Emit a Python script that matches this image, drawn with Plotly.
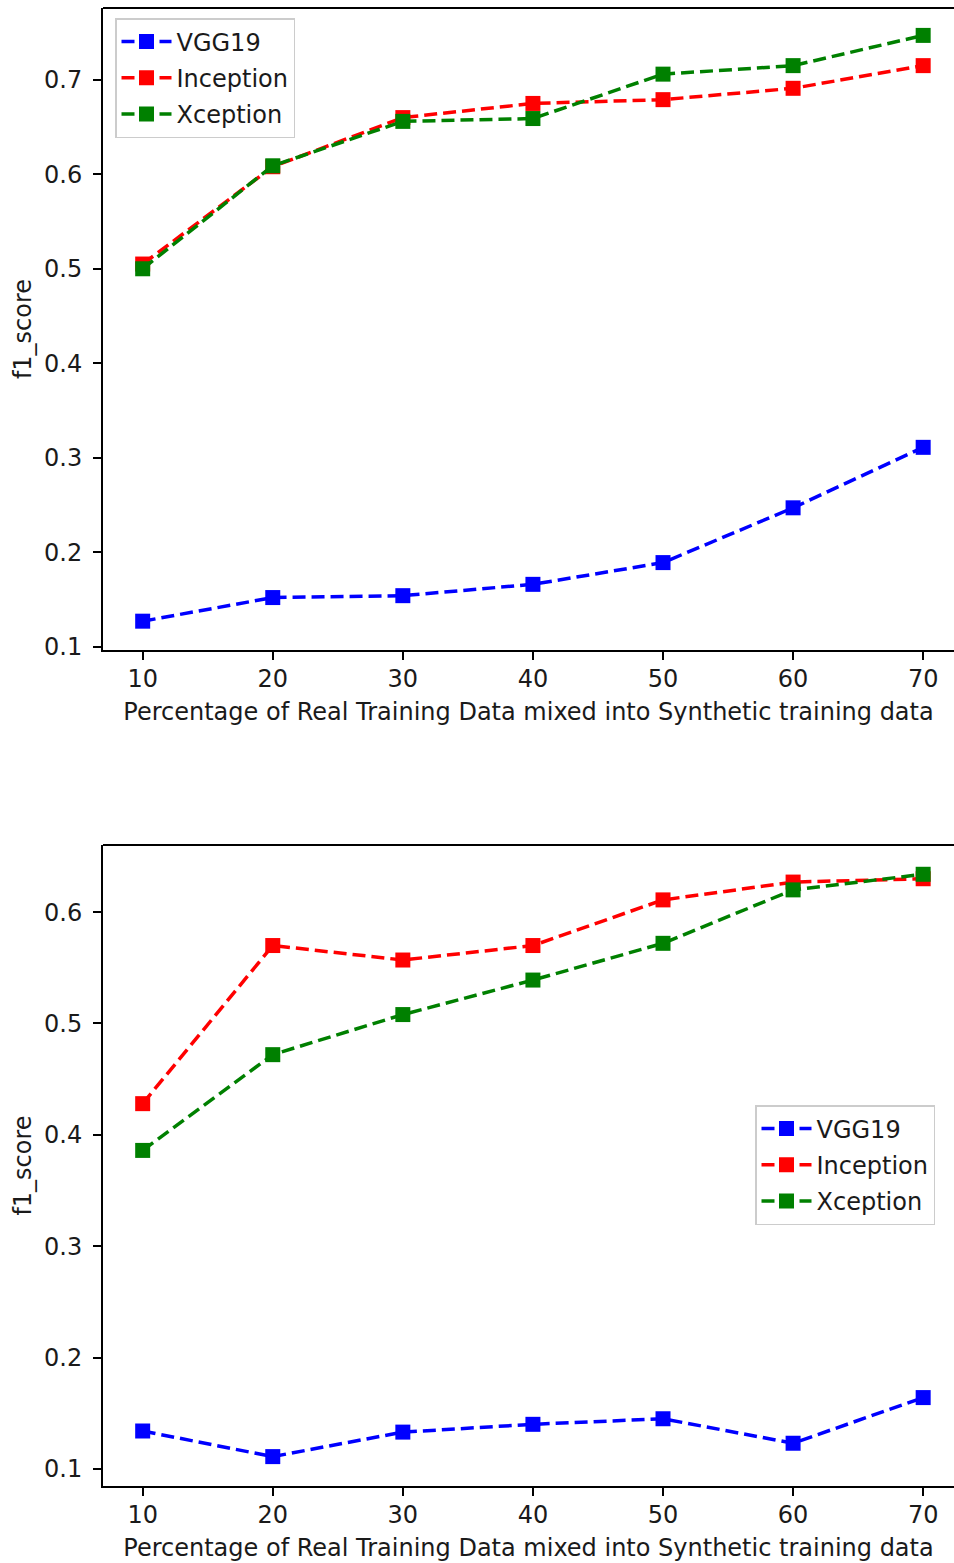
import plotly.graph_objects as go

x_pct = [10, 20, 30, 40, 50, 60, 70]

top_vgg19 = [0.127, 0.152, 0.154, 0.166, 0.189, 0.247, 0.311]
top_inception = [0.505, 0.608, 0.660, 0.675, 0.679, 0.691, 0.715]
top_xception = [0.500, 0.609, 0.656, 0.659, 0.706, 0.715, 0.747]

bot_vgg19 = [0.134, 0.111, 0.133, 0.140, 0.145, 0.123, 0.164]
bot_inception = [0.428, 0.570, 0.557, 0.570, 0.611, 0.627, 0.630]
bot_xception = [0.386, 0.472, 0.508, 0.539, 0.572, 0.620, 0.634]

x_ticks = [10, 20, 30, 40, 50, 60, 70]
top_y_ticks = [0.1, 0.2, 0.3, 0.4, 0.5, 0.6, 0.7]
bot_y_ticks = [0.1, 0.2, 0.3, 0.4, 0.5, 0.6]

names = ["VGG19", "Inception", "Xception"]
colors = ["#0000ff", "#ff0000", "#008000"]

W, H = 954, 1563
FONT = "DejaVu Sans"
FS = 24
TXT = "#1a1a1a"
DASH = "13px,6px"

fig = go.Figure()

def add_series(ys_list, xa, ya, legend, prefix):
    for name, ys, c in zip(names, ys_list, colors):
        fig.add_trace(go.Scatter(
            x=x_pct, y=ys, name=name, mode="lines+markers",
            line=dict(color=c, width=3.5, dash=DASH),
            marker=dict(symbol="square", size=15, color=c),
            xaxis=xa, yaxis=ya, legend=legend, legendgroup=prefix + name,
        ))

add_series([top_vgg19, top_inception, top_xception], "x", "y", "legend", "t")
add_series([bot_vgg19, bot_inception, bot_xception], "x2", "y2", "legend2", "b")

def yd(top_px, bot_px):
    return [1 - bot_px / H, 1 - top_px / H]

L = 103
PW = W - L

xcommon = dict(
    range=[6.95, 72.37], tickvals=x_ticks, ticks="outside", ticklen=8, tickwidth=1.9,
    tickcolor="#000", showline=True, linecolor="#000", linewidth=1.9,
    showgrid=False, zeroline=False, tickfont=dict(family=FONT, size=FS, color=TXT),
    ticklabelstandoff=-2, automargin=False,
    title=dict(text="Percentage of Real Training Data mixed into Synthetic training data",
               font=dict(family=FONT, size=FS, color=TXT), standoff=11),
)
ycommon = dict(
    ticks="outside", ticklen=8, tickwidth=1.9, tickcolor="#000",
    showline=True, linecolor="#000", linewidth=1.9, showgrid=False, zeroline=False,
    tickformat=".1f", tickfont=dict(family=FONT, size=FS, color=TXT),
    ticklabelstandoff=6, automargin=False,
    title=dict(text="f1_score", font=dict(family=FONT, size=FS, color=TXT), standoff=6),
)

legcommon = dict(xanchor="left", yanchor="top", bgcolor="rgba(255,255,255,0.8)",
                 bordercolor="#cccccc", borderwidth=1.5, itemwidth=50,
                 font=dict(family=FONT, size=FS, color=TXT), tracegroupgap=2)

fig.update_layout(
    template="none",
    width=W, height=H,
    margin=dict(l=L, r=0, t=0, b=0, pad=0),
    paper_bgcolor="white", plot_bgcolor="white",
    font=dict(family=FONT, size=FS, color=TXT),
    xaxis=dict(domain=[0, 1], anchor="y", **xcommon),
    yaxis=dict(domain=yd(8, 650), anchor="x", range=[0.0965, 0.776],
               tickvals=top_y_ticks, **ycommon),
    xaxis2=dict(domain=[0, 1], anchor="y2", **xcommon),
    yaxis2=dict(domain=yd(845, 1486), anchor="x2", range=[0.0846, 0.6603],
                tickvals=bot_y_ticks, **ycommon),
    legend=dict(x=(115 - L) / PW, y=1 - 18 / H, **legcommon),
    legend2=dict(x=(755 - L) / PW, y=1 - 1105 / H, **legcommon),
    showlegend=True,
)

for xr, yr in [("x domain", "y domain"), ("x2 domain", "y2 domain")]:
    fig.add_shape(type="line", xref=xr, yref=yr, x0=0, x1=1, y0=1, y1=1,
                  line=dict(color="#000", width=1.9))

post = """
document.documentElement.style.margin='0';
document.body.style.margin='0';
document.documentElement.style.overflow='hidden';
document.body.style.overflow='hidden';
"""
fig.write_html("out.html", post_script=post, config={"displayModeBar": False})
